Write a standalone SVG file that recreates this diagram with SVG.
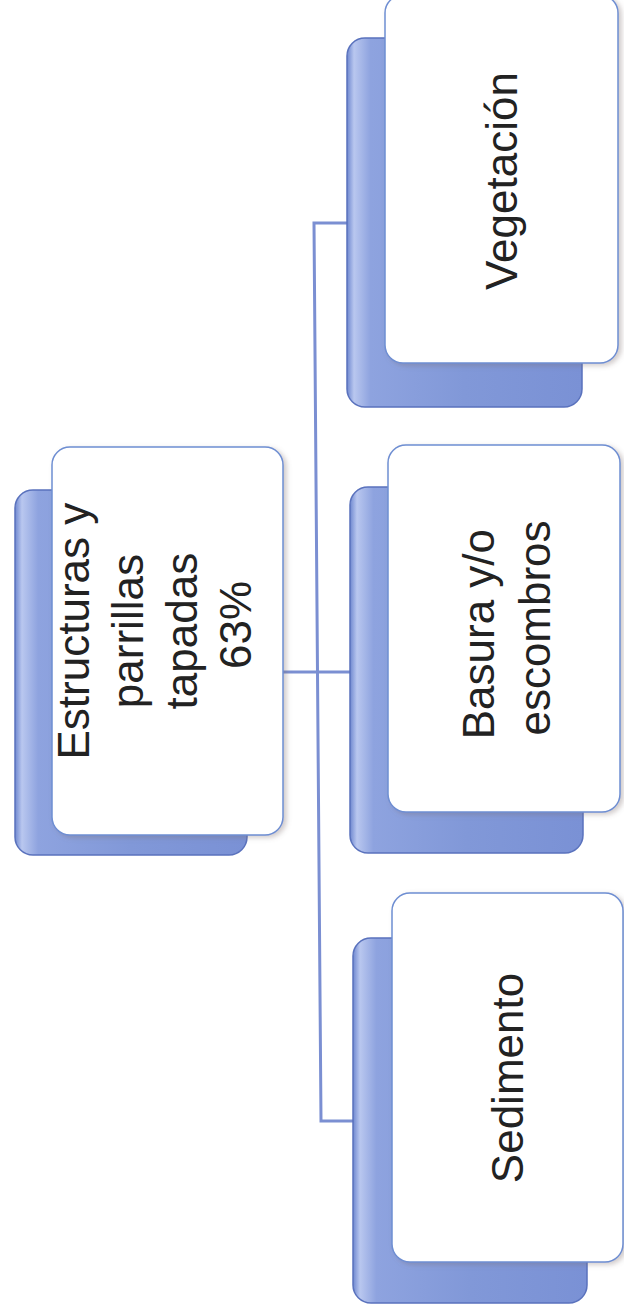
<svg xmlns="http://www.w3.org/2000/svg" width="624" height="1313" viewBox="0 0 624 1313">
  <defs>
    <linearGradient id="blueGrad" x1="0" y1="0" x2="1" y2="0">
      <stop offset="0" stop-color="#6f88d0"/>
      <stop offset="0.03" stop-color="#b9c7ef"/>
      <stop offset="0.10" stop-color="#8ea3df"/>
      <stop offset="0.5" stop-color="#8198d8"/>
      <stop offset="1" stop-color="#7a91d5"/>
    </linearGradient>
    <filter id="shadow" x="-10%" y="-10%" width="125%" height="125%">
      <feGaussianBlur in="SourceAlpha" stdDeviation="2.5"/>
      <feOffset dx="3" dy="2" result="b"/>
      <feFlood flood-color="#7a6a6a" flood-opacity="0.35"/>
      <feComposite in2="b" operator="in"/>
      <feMerge><feMergeNode/><feMergeNode in="SourceGraphic"/></feMerge>
    </filter>
  </defs>
  <style>
    .back { fill: url(#blueGrad); stroke: #5a72bd; stroke-width: 1.5; }
    .front { fill: #ffffff; stroke: #6e8ed2; stroke-width: 1.5; filter: url(#shadow); }
    .label { font-family: "Liberation Sans", Arial, sans-serif; font-size: 44px; fill: #222222; text-anchor: middle; }
    .conn { fill: none; stroke: #7b8fd2; stroke-width: 3; }
  </style>
  <rect width="624" height="1313" fill="#ffffff"/>

  <g id="connectors">
    <path class="conn" d="M348,223 H314 L321,1121 H355"/>
    <path class="conn" d="M283,672 H350"/>
  </g>

  <g id="node-estructuras">
    <rect class="back" x="15" y="490" width="232" height="365" rx="18" ry="18"/>
    <rect class="front" x="52" y="447" width="231" height="388" rx="18" ry="18"/>
    <text class="label" transform="translate(89,625) rotate(-90)">
      <tspan x="0" y="0">Estructuras y</tspan>
      <tspan x="0" dy="54">parrillas</tspan>
      <tspan x="0" dy="54">tapadas</tspan>
      <tspan x="0" dy="54">63%</tspan>
    </text>
  </g>

  <g id="node-vegetacion">
    <rect class="back" x="347" y="38" width="235" height="369" rx="18" ry="18"/>
    <rect class="front" x="385" y="-5" width="233" height="368" rx="18" ry="18"/>
    <text class="label" transform="translate(517,181) rotate(-90)">Vegetación</text>
  </g>

  <g id="node-basura">
    <rect class="back" x="350" y="487" width="233" height="366" rx="18" ry="18"/>
    <rect class="front" x="388" y="445" width="232" height="367" rx="18" ry="18"/>
    <text class="label" transform="translate(494,628) rotate(-90)">
      <tspan x="0" y="0">Basura y/o</tspan>
      <tspan x="0" dy="56">escombros</tspan>
    </text>
  </g>

  <g id="node-sedimento">
    <rect class="back" x="353" y="938" width="234" height="365" rx="18" ry="18"/>
    <rect class="front" x="392" y="893" width="231" height="369" rx="18" ry="18"/>
    <text class="label" transform="translate(523,1078) rotate(-90)">Sedimento</text>
  </g>
</svg>
